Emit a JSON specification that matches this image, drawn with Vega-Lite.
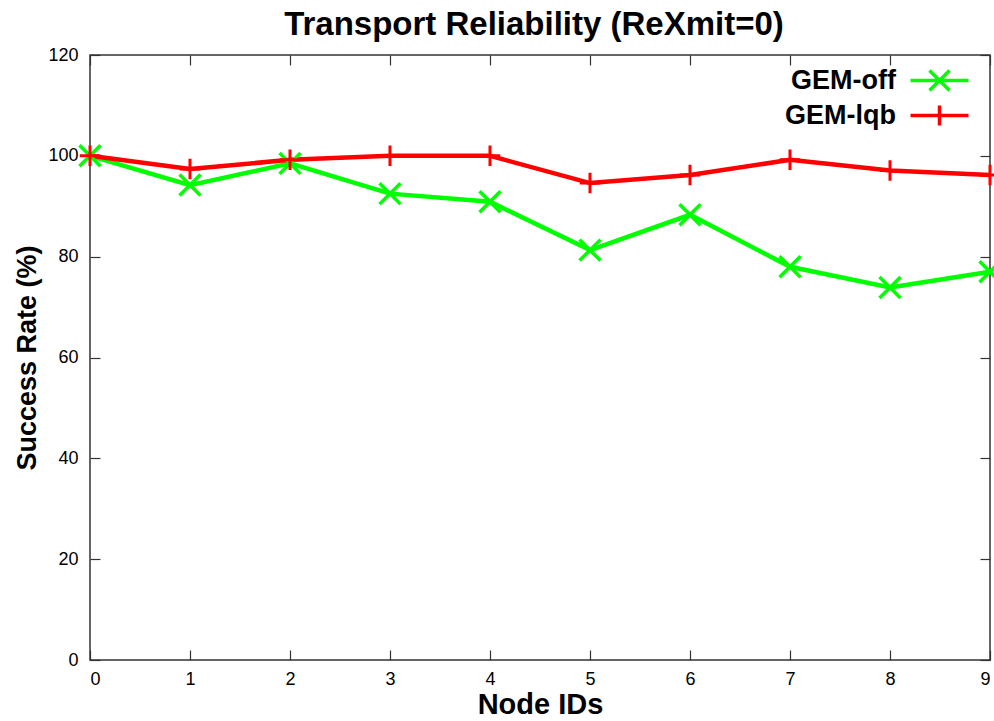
{
  "$schema": "https://vega.github.io/schema/vega-lite/v6.json",
  "autosize": {"type": "none"},
  "padding": {"left": 90, "top": 55, "right": 4, "bottom": 61},
  "width": 900,
  "height": 605,
  "background": "white",
  "title": {
    "text": "Transport Reliability (ReXmit=0)",
    "font": "Liberation Sans",
    "fontSize": 33,
    "fontWeight": "bold",
    "color": "black",
    "anchor": "middle",
    "frame": "group",
    "offset": 4,
    "dx": -6
  },
  "config": {
    "view": {"stroke": "#333", "strokeWidth": 1.5},
    "axis": {"grid": false, "domain": false, "tickColor": "#333", "tickWidth": 1.2, "labelColor": "black", "titleColor": "black", "labelFont": "Liberation Sans", "titleFont": "Liberation Sans"}
  },
  "data": {"values": [
    {"node": 0, "rate": 100, "series": "GEM-off"},
    {"node": 1, "rate": 94.2, "series": "GEM-off"},
    {"node": 2, "rate": 98.5, "series": "GEM-off"},
    {"node": 3, "rate": 92.5, "series": "GEM-off"},
    {"node": 4, "rate": 90.9, "series": "GEM-off"},
    {"node": 5, "rate": 81.3, "series": "GEM-off"},
    {"node": 6, "rate": 88.3, "series": "GEM-off"},
    {"node": 7, "rate": 78.0, "series": "GEM-off"},
    {"node": 8, "rate": 73.9, "series": "GEM-off"},
    {"node": 9, "rate": 77.0, "series": "GEM-off"},
    {"node": 0, "rate": 100, "series": "GEM-lqb"},
    {"node": 1, "rate": 97.4, "series": "GEM-lqb"},
    {"node": 2, "rate": 99.2, "series": "GEM-lqb"},
    {"node": 3, "rate": 100, "series": "GEM-lqb"},
    {"node": 4, "rate": 100, "series": "GEM-lqb"},
    {"node": 5, "rate": 94.6, "series": "GEM-lqb"},
    {"node": 6, "rate": 96.2, "series": "GEM-lqb"},
    {"node": 7, "rate": 99.2, "series": "GEM-lqb"},
    {"node": 8, "rate": 97.1, "series": "GEM-lqb"},
    {"node": 9, "rate": 96.2, "series": "GEM-lqb"}
  ]},
  "layer": [
    {
      "mark": {"type": "line", "strokeWidth": 4.5, "clip": false},
      "encoding": {
        "x": {"field": "node", "type": "quantitative", "scale": {"domain": [0, 9], "nice": false},
              "axis": {"orient": "bottom", "title": "Node IDs", "values": [0,1,2,3,4,5,6,7,8,9], "tickSize": -10, "labelFontSize": 18, "labelPadding": 20, "titleFontSize": 29, "titleFontWeight": "bold", "titlePadding": 2}},
        "y": {"field": "rate", "type": "quantitative", "scale": {"domain": [0, 120], "nice": false},
              "axis": {"orient": "left", "title": "Success Rate (%)", "values": [0,20,40,60,80,100,120], "tickSize": -10, "labelFontSize": 18, "labelPadding": 22, "titleFontSize": 27, "titleFontWeight": "bold", "titlePadding": 6}},
        "color": {"field": "series", "type": "nominal",
                  "scale": {"domain": ["GEM-off", "GEM-lqb"], "range": ["#00ff00", "#ff0000"]},
                  "legend": {
                    "title": null, "orient": "none", "legendX": 836, "legendY": 12, "padding": 0,
                    "labelFont": "Liberation Sans", "labelFontSize": 27, "labelFontWeight": "bold", "labelColor": "black",
                    "labelAlign": "right", "labelOffset": -57,
                    "symbolSize": 400, "symbolStrokeWidth": 3.5, "rowPadding": 0,
                    "encode": {"symbols": {"update": {
                      "shape": {"signal": "datum.value === 'GEM-off' ? 'M-2.9,0H2.9M-1,-1L1,1M-1,1L1,-1' : 'M-2.9,0H2.9M0,-1V1'"},
                      "fill": {"value": "transparent"},
                      "stroke": {"signal": "datum.value === 'GEM-off' ? '#00ff00' : '#ff0000'"},
                      "strokeWidth": {"value": 3.5}
                    }}}
                  }},
        "order": {"field": "node"}
      }
    },
    {
      "transform": [{"filter": "datum.series === 'GEM-off'"}],
      "mark": {"type": "point", "filled": false, "size": 440, "strokeWidth": 3.5, "color": "#00ff00", "opacity": 1, "clip": false, "shape": "M-1,-1L1,1M-1,1L1,-1"},
      "encoding": {
        "x": {"field": "node", "type": "quantitative", "axis": null},
        "y": {"field": "rate", "type": "quantitative", "axis": null}
      }
    },
    {
      "transform": [{"filter": "datum.series === 'GEM-lqb'"}],
      "mark": {"type": "point", "filled": false, "size": 420, "strokeWidth": 3, "color": "#ff0000", "opacity": 1, "clip": false, "shape": "M-1,0H1M0,-1V1"},
      "encoding": {
        "x": {"field": "node", "type": "quantitative", "axis": null},
        "y": {"field": "rate", "type": "quantitative", "axis": null}
      }
    },
    {
      "mark": {"type": "point", "opacity": 0},
      "encoding": {
        "x": {"field": "node", "type": "quantitative",
              "axis": {"orient": "top", "title": null, "labels": false, "values": [0,1,2,3,4,5,6,7,8,9], "tickSize": -10}},
        "y": {"field": "rate", "type": "quantitative",
              "axis": {"orient": "right", "title": null, "labels": false, "values": [0,20,40,60,80,100,120], "tickSize": -10}}
      }
    }
  ],
  "resolve": {"axis": {"x": "independent", "y": "independent"}}
}
